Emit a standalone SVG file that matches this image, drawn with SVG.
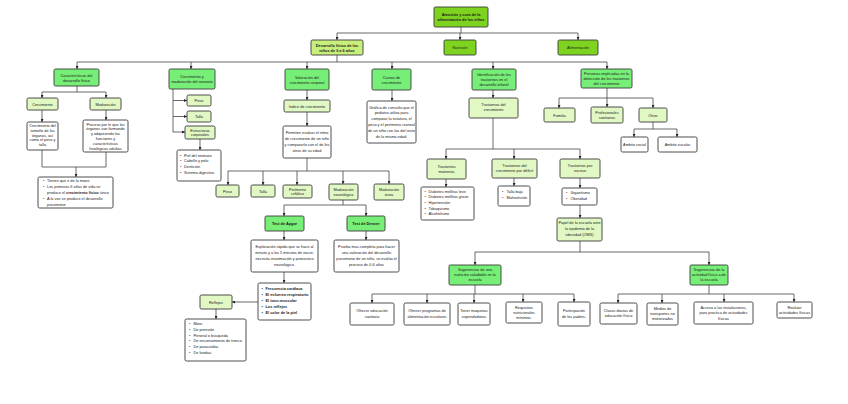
<svg xmlns="http://www.w3.org/2000/svg" width="848" height="404" viewBox="0 0 848 404">
<style>
text{font-family:"Liberation Sans",Arial,sans-serif;font-size:3.85px;fill:#1a1a1a}
.c{text-anchor:middle}
.b{font-weight:bold}
rect{stroke:#3a3a3a;stroke-width:0.9}
rect.bg{stroke:none;fill:#fff}
.n1{fill:#7ed321}
.nd{fill:#c8ef7c}
.n2{fill:#77ee77}
.n3{fill:#e2f8c4}
.w{fill:#fff}
#connectors path{fill:none;stroke:#444;stroke-width:0.8}
</style>
<defs>
<marker id="a" markerWidth="3" markerHeight="3" refX="3" refY="1.5" orient="auto" markerUnits="userSpaceOnUse"><path d="M0,0 L3,1.5 L0,3 z" fill="#222"/></marker>
</defs>
<rect class="bg" width="848" height="404"/>
<g id="connectors">
<path d="M461,27 V33 M337,33 H578"/>
<path d="M337,33 V40" marker-end="url(#a)"/>
<path d="M460,33 V40" marker-end="url(#a)"/>
<path d="M578,33 V40" marker-end="url(#a)"/>
<path d="M337,55 V62 M77,62 H607"/>
<path d="M77,62 V69" marker-end="url(#a)"/>
<path d="M191,62 V69" marker-end="url(#a)"/>
<path d="M307,62 V69" marker-end="url(#a)"/>
<path d="M392,62 V69" marker-end="url(#a)"/>
<path d="M493,62 V69" marker-end="url(#a)"/>
<path d="M607,62 V69" marker-end="url(#a)"/>
<path d="M77,86 V92 M42,92 H106"/>
<path d="M42,92 V98" marker-end="url(#a)"/>
<path d="M106,92 V98" marker-end="url(#a)"/>
<path d="M42,110 V122" marker-end="url(#a)"/>
<path d="M106,110 V120" marker-end="url(#a)"/>
<path d="M42,150 V167 H106 V152"/>
<path d="M76,167 V177" marker-end="url(#a)"/>
<path d="M173,89 V132"/>
<path d="M173,100.5 H187" marker-end="url(#a)"/>
<path d="M173,116.5 H187" marker-end="url(#a)"/>
<path d="M173,132 H185" marker-end="url(#a)"/>
<path d="M200,139 V150" marker-end="url(#a)"/>
<path d="M307,90 V100" marker-end="url(#a)"/>
<path d="M307,112 V126" marker-end="url(#a)"/>
<path d="M307,158 V171 M228,171 H389"/>
<path d="M228,171 V185" marker-end="url(#a)"/>
<path d="M263,171 V185" marker-end="url(#a)"/>
<path d="M297,171 V185" marker-end="url(#a)"/>
<path d="M343,171 V184" marker-end="url(#a)"/>
<path d="M389,171 V184" marker-end="url(#a)"/>
<path d="M343,200 V205 M284,205 H366"/>
<path d="M284,205 V216" marker-end="url(#a)"/>
<path d="M366,205 V216" marker-end="url(#a)"/>
<path d="M284,231 V240" marker-end="url(#a)"/>
<path d="M366,231 V240" marker-end="url(#a)"/>
<path d="M284,272 V283" marker-end="url(#a)"/>
<path d="M258,302 H232" marker-end="url(#a)"/>
<path d="M216,309 V319" marker-end="url(#a)"/>
<path d="M392,90 V101" marker-end="url(#a)"/>
<path d="M493,90 V98" marker-end="url(#a)"/>
<path d="M493,118 V149 M446,149 H580"/>
<path d="M446,149 V159" marker-end="url(#a)"/>
<path d="M514,149 V159" marker-end="url(#a)"/>
<path d="M580,149 V159" marker-end="url(#a)"/>
<path d="M446,179 V187" marker-end="url(#a)"/>
<path d="M514,178 V186" marker-end="url(#a)"/>
<path d="M580,178 V188" marker-end="url(#a)"/>
<path d="M580,205 V218" marker-end="url(#a)"/>
<path d="M580,241 V252 M475,252 H709"/>
<path d="M475,252 V265" marker-end="url(#a)"/>
<path d="M709,252 V265" marker-end="url(#a)"/>
<path d="M475,285 V294 M372,294 H574"/>
<path d="M372,294 V303" marker-end="url(#a)"/>
<path d="M427,294 V303" marker-end="url(#a)"/>
<path d="M474,294 V303" marker-end="url(#a)"/>
<path d="M523,294 V302" marker-end="url(#a)"/>
<path d="M574,294 V302" marker-end="url(#a)"/>
<path d="M709,285 V294 M618,294 H794"/>
<path d="M618,294 V303" marker-end="url(#a)"/>
<path d="M662,294 V303" marker-end="url(#a)"/>
<path d="M724,294 V302" marker-end="url(#a)"/>
<path d="M794,294 V302" marker-end="url(#a)"/>
<path d="M607,88 V98 M559,98 H653"/>
<path d="M559,98 V108" marker-end="url(#a)"/>
<path d="M607,98 V107" marker-end="url(#a)"/>
<path d="M653,98 V108" marker-end="url(#a)"/>
<path d="M653,122 V129 M634,129 H677"/>
<path d="M634,129 V137" marker-end="url(#a)"/>
<path d="M677,129 V137" marker-end="url(#a)"/>
</g>

<g id="top"><rect class="n1" x="434" y="7" width="54" height="20" rx="1.5"/><text class="c b" x="461" y="16">Atención y cura de la</text><text class="c b" x="461" y="21">alimentación de los niños</text></g>
<g id="desarrollo"><rect class="nd" x="311" y="40" width="52" height="15" rx="1.5"/><text class="c b" x="337" y="46.5">Desarrollo físico de los</text><text class="c b" x="337" y="51.5">niños de 0 a 6 años</text></g>
<g id="nutricion"><rect class="n1" x="444" y="40" width="32" height="15" rx="1.5"/><text class="c" x="460" y="49">Nutrición</text></g>
<g id="alimentacion"><rect class="n1" x="558" y="40" width="40" height="15" rx="1.5"/><text class="c" x="578" y="49">Alimentación</text></g>

<g id="caracteristicas"><rect class="n2" x="54" y="69" width="45" height="17" rx="1.5"/><text class="c" x="76.5" y="76.5">Características del</text><text class="c" x="76.5" y="81.5">desarrollo físico</text></g>
<g id="neonato"><rect class="n2" x="169" y="69" width="46" height="20" rx="1.5"/><text class="c" x="192" y="78">Crecimiento y</text><text class="c" x="192" y="83">maduración del neonato</text></g>
<g id="valoracion"><rect class="n2" x="285" y="69" width="44" height="21" rx="1.5"/><text class="c" x="307" y="78.5">Valoración del</text><text class="c" x="307" y="83.5">crecimiento corporal</text></g>
<g id="curvas"><rect class="n2" x="372" y="69" width="39" height="21" rx="1.5"/><text class="c" x="391.5" y="78.5">Curvas de</text><text class="c" x="391.5" y="83.5">crecimiento</text></g>
<g id="identificacion"><rect class="n2" x="472" y="69" width="44" height="21" rx="1.5"/><text class="c" x="494" y="76">Identificación de los</text><text class="c" x="494" y="81">trastornos en el</text><text class="c" x="494" y="86">desarrollo infantil</text></g>
<g id="personas"><rect class="n2" x="581" y="69" width="51" height="19" rx="1.5"/><text class="c" x="606.5" y="75">Personas implicadas en la</text><text class="c" x="606.5" y="80">detección de los trastornos</text><text class="c" x="606.5" y="85">del crecimiento</text></g>

<g id="crecimiento"><rect class="n3" x="27" y="98" width="31" height="12" rx="1.5"/><text class="c" x="42.5" y="105.5">Crecimiento</text></g>
<g id="maduracion"><rect class="n3" x="90" y="98" width="31" height="12" rx="1.5"/><text class="c" x="105.5" y="105.5">Maduración</text></g>
<g id="crec-text"><rect class="w" x="27" y="122" width="31" height="28" rx="1.5"/><text class="c" x="42.5" y="127">Crecimiento del</text><text class="c" x="42.5" y="131.8">tamaño de los</text><text class="c" x="42.5" y="136.6">órganos, así</text><text class="c" x="42.5" y="141.4">como el peso y</text><text class="c" x="42.5" y="146.2">talla</text></g>
<g id="mad-text"><rect class="w" x="83" y="120" width="45" height="32" rx="1.5"/><text class="c" x="105.5" y="125.5">Proceso por le que los</text><text class="c" x="105.5" y="130.3">órganos van formando</text><text class="c" x="105.5" y="135.1">y adquiriendo las</text><text class="c" x="105.5" y="139.9">funciones y</text><text class="c" x="105.5" y="144.7">características</text><text class="c" x="105.5" y="149.5">fisiológicas adultas</text></g>
<g id="mano"><rect class="w" x="38" y="177" width="75" height="31" rx="1.5"/><text x="43" y="182">•</text><text x="47" y="182">Tienen que ir de la mano</text><text x="43" y="188">•</text><text x="47" y="188">Los primeros 6 años de vida se</text><text x="47" y="194">produce el <tspan class="b">crecimiento físico</tspan> único</text><text x="43" y="200">•</text><text x="47" y="200">A la vez se produce el desarrollo</text><text x="47" y="206">psicomotor</text></g>

<g id="peso1"><rect class="n3" x="187" y="95" width="24" height="11" rx="1.5"/><text class="c" x="199" y="102">Peso</text></g>
<g id="talla1"><rect class="n3" x="187" y="111" width="24" height="11" rx="1.5"/><text class="c" x="199" y="118">Talla</text></g>
<g id="estructuras"><rect class="n3" x="185" y="126" width="30" height="13" rx="1.5"/><text class="c" x="200" y="131.5">Estructuras</text><text class="c" x="200" y="136.3">corporales</text></g>
<g id="neonato-list"><rect class="w" x="177" y="150" width="44" height="31" rx="1.5"/><text x="180" y="156.5">•</text><text x="184" y="156.5">Piel del neonato</text><text x="180" y="162.3">•</text><text x="184" y="162.3">Cabello y pelo</text><text x="180" y="168.1">•</text><text x="184" y="168.1">Dentición</text><text x="180" y="173.9">•</text><text x="184" y="173.9">Sistema digestivo</text></g>

<g id="indice"><rect class="n3" x="284" y="100" width="46" height="12" rx="1.5"/><text class="c" x="307" y="107.5">Índice de crecimiento</text></g>
<g id="permiten"><rect class="w" x="283" y="126" width="48" height="32" rx="1.5"/><text class="c" x="307" y="134">Permiten evaluar el ritmo</text><text class="c" x="307" y="140">de crecimiento de un niño</text><text class="c" x="307" y="146">y compararlo con el de los</text><text class="c" x="307" y="152">otros de su edad</text></g>
<g id="peso2"><rect class="n3" x="216" y="185" width="23" height="12" rx="1.5"/><text class="c" x="227.5" y="192.5">Peso</text></g>
<g id="talla2"><rect class="n3" x="251" y="185" width="24" height="12" rx="1.5"/><text class="c" x="263" y="192.5">Talla</text></g>
<g id="perimetro"><rect class="n3" x="283" y="185" width="29" height="13" rx="1.5"/><text class="c" x="297.5" y="190.5">Perímetro</text><text class="c" x="297.5" y="195.3">cefálico</text></g>
<g id="madneuro"><rect class="n3" x="329" y="184" width="29" height="16" rx="1.5"/><text class="c" x="343.5" y="191">Maduración</text><text class="c" x="343.5" y="196">neurológica</text></g>
<g id="madosea"><rect class="n3" x="374" y="184" width="30" height="16" rx="1.5"/><text class="c" x="389" y="191">Maduración</text><text class="c" x="389" y="196">ósea</text></g>
<g id="apgar"><rect class="n2" x="265" y="216" width="39" height="15" rx="1.5"/><text class="c b" x="284.5" y="225">Test de Apgar</text></g>
<g id="denver"><rect class="n2" x="347" y="216" width="38" height="15" rx="1.5"/><text class="c b" x="366" y="225">Test de Denver</text></g>
<g id="apgar-text"><rect class="w" x="251" y="240" width="67" height="32" rx="1.5"/><text class="c" x="284.5" y="248">Exploración rápida que se hace al</text><text class="c" x="284.5" y="254">minuto y a los 5   minutos de nacer,</text><text class="c" x="284.5" y="260">necesita reanimación y pronostico</text><text class="c" x="284.5" y="266">neurológico.</text></g>
<g id="denver-text"><rect class="w" x="334" y="240" width="65" height="32" rx="1.5"/><text class="c" x="366.5" y="248">Prueba mas completa para hacer</text><text class="c" x="366.5" y="254">una valoración del desarrollo</text><text class="c" x="366.5" y="260">psicomotor de un niño, se evalúa el</text><text class="c" x="366.5" y="266">proceso de 0-6 años</text></g>
<g id="apgar-list" class="b"><rect class="w" x="258" y="283" width="53" height="37" rx="1.5"/><text x="261.5" y="290">•</text><text class="b" x="265.5" y="290">Frecuencia cardiaca</text><text x="261.5" y="296">•</text><text class="b" x="265.5" y="296">El esfuerzo respiratorio</text><text x="261.5" y="302">•</text><text class="b" x="265.5" y="302">El tono muscular</text><text x="261.5" y="308">•</text><text class="b" x="265.5" y="308">Los reflejos</text><text x="261.5" y="314">•</text><text class="b" x="265.5" y="314">El color de la piel</text></g>
<g id="reflejos"><rect class="n3" x="200" y="295" width="32" height="14" rx="1.5"/><text class="c" x="216" y="303.5">Reflejos</text></g>
<g id="reflejos-list"><rect class="w" x="185" y="319" width="61" height="42" rx="1.5"/><text x="189" y="325">•</text><text x="193.5" y="325">Moro</text><text x="189" y="330.8">•</text><text x="193.5" y="330.8">De prensión</text><text x="189" y="336.6">•</text><text x="193.5" y="336.6">Perioral o búsqueda</text><text x="189" y="342.4">•</text><text x="193.5" y="342.4">De encorvamiento de tronco</text><text x="189" y="348.2">•</text><text x="193.5" y="348.2">De paracaídas</text><text x="189" y="354">•</text><text x="193.5" y="354">De landau</text></g>

<g id="curvas-text"><rect class="w" x="367" y="101" width="49" height="42" rx="1.5"/><text class="c" x="391.5" y="108.5">Gráfica de consulta que el</text><text class="c" x="391.5" y="114.3">pediatra utiliza para</text><text class="c" x="391.5" y="120.1">comparar la estatura, el</text><text class="c" x="391.5" y="125.9">peso y el perímetro craneal</text><text class="c" x="391.5" y="131.7">de un niño con las del resto</text><text class="c" x="391.5" y="137.5">de la misma edad.</text></g>

<g id="trastornos"><rect class="n3" x="469" y="98" width="49" height="20" rx="1.5"/><text class="c" x="493.5" y="106">Trastornos del</text><text class="c" x="493.5" y="111">crecimiento</text></g>
<g id="maternos"><rect class="n3" x="427" y="159" width="39" height="20" rx="1.5"/><text class="c" x="446.5" y="167.5">Trastornos</text><text class="c" x="446.5" y="172.5">maternos</text></g>
<g id="deficit"><rect class="n3" x="492" y="159" width="45" height="19" rx="1.5"/><text class="c" x="514.5" y="167">Trastornos del</text><text class="c" x="514.5" y="172">crecimiento por déficit</text></g>
<g id="exceso"><rect class="n3" x="560" y="159" width="40" height="19" rx="1.5"/><text class="c" x="580" y="167">Trastornos por</text><text class="c" x="580" y="172">exceso</text></g>
<g id="maternos-list"><rect class="w" x="421" y="187" width="53" height="33" rx="1.5"/><text x="424.5" y="192.5">•</text><text x="428.5" y="192.5">Diabetes mellitus leve</text><text x="424.5" y="198.2">•</text><text x="428.5" y="198.2">Diabetes mellitus grave</text><text x="424.5" y="203.9">•</text><text x="428.5" y="203.9">Hipertensión</text><text x="424.5" y="209.6">•</text><text x="428.5" y="209.6">Tabaquismo</text><text x="424.5" y="215.3">•</text><text x="428.5" y="215.3">Alcoholismo</text></g>
<g id="deficit-list"><rect class="w" x="498" y="186" width="32" height="20" rx="1.5"/><text x="502" y="193">•</text><text x="506.5" y="193">Talla baja</text><text x="502" y="198.7">•</text><text x="506.5" y="198.7">Malnutrición</text></g>
<g id="exceso-list"><rect class="w" x="562" y="188" width="35" height="17" rx="1.5"/><text x="566" y="194">•</text><text x="570.5" y="194">Gigantismo</text><text x="566" y="199.7">•</text><text x="570.5" y="199.7">Obesidad</text></g>
<g id="papel"><rect class="n3" x="557" y="218" width="45" height="23" rx="1.5"/><text class="c" x="579.5" y="224">Papel  de la escuela ante</text><text class="c" x="579.5" y="230">la epidemia de la</text><text class="c" x="579.5" y="236">obesidad (OMS)</text></g>
<g id="sug-nutricion"><rect class="n2" x="449" y="265" width="52" height="20" rx="1.5"/><text class="c" x="475" y="271">Sugerencias de una</text><text class="c" x="475" y="276">nutrición saludable en la</text><text class="c" x="475" y="281">escuela</text></g>
<g id="sug-actividad"><rect class="n2" x="690" y="265" width="38" height="20" rx="1.5"/><text class="c" x="709" y="271">Sugerencias de la</text><text class="c" x="709" y="276">actividad física a de</text><text class="c" x="709" y="281">la escuela</text></g>
<g id="educacion"><rect class="w" x="350" y="303" width="44" height="22" rx="1.5"/><text class="c" x="372" y="312">Ofrecer educación</text><text class="c" x="372" y="318">sanitaria</text></g>
<g id="programas"><rect class="w" x="404" y="303" width="46" height="22" rx="1.5"/><text class="c" x="427" y="312">Ofrecer programas de</text><text class="c" x="427" y="318">alimentación escolares</text></g>
<g id="maquinas"><rect class="w" x="458" y="303" width="32" height="22" rx="1.5"/><text class="c" x="474" y="312">Tener maquinas</text><text class="c" x="474" y="318">expendedoras</text></g>
<g id="requisitos"><rect class="w" x="506" y="302" width="36" height="21" rx="1.5"/><text class="c" x="524" y="308.5">Requisitos</text><text class="c" x="524" y="313.5">nutricionales</text><text class="c" x="524" y="318.5">mínimos.</text></g>
<g id="padres"><rect class="w" x="558" y="302" width="32" height="24" rx="1.5"/><text class="c" x="574" y="312">Participación</text><text class="c" x="574" y="318">de los padres.</text></g>
<g id="clases"><rect class="w" x="600" y="303" width="37" height="21" rx="1.5"/><text class="c" x="618.5" y="311.5">Clases diarias de</text><text class="c" x="618.5" y="317">educación física</text></g>
<g id="medios"><rect class="w" x="647" y="303" width="31" height="22" rx="1.5"/><text class="c" x="662.5" y="309.5">Medios de</text><text class="c" x="662.5" y="314.8">transportes no</text><text class="c" x="662.5" y="320.1">motorizados</text></g>
<g id="acceso"><rect class="w" x="694" y="302" width="59" height="22" rx="1.5"/><text class="c" x="723.5" y="309">Acceso a las instalaciones,</text><text class="c" x="723.5" y="314.3">para practica de actividades</text><text class="c" x="723.5" y="319.6">físicas</text></g>
<g id="realizar"><rect class="w" x="777" y="302" width="35" height="16" rx="1.5"/><text class="c" x="794.5" y="309">Realizar</text><text class="c" x="794.5" y="314">actividades físicas</text></g>

<g id="familia"><rect class="n3" x="544" y="108" width="31" height="14" rx="1.5"/><text class="c" x="559.5" y="116.5">Familia</text></g>
<g id="profesionales"><rect class="n3" x="591" y="107" width="32" height="16" rx="1.5"/><text class="c" x="607" y="114">Profesionales</text><text class="c" x="607" y="119">sanitarios</text></g>
<g id="otros"><rect class="n3" x="639" y="108" width="28" height="14" rx="1.5"/><text class="c" x="653" y="116.5">Otros</text></g>
<g id="social"><rect class="w" x="621" y="137" width="27" height="15" rx="1.5"/><text class="c" x="634.5" y="146">Ámbito social</text></g>
<g id="escolar"><rect class="w" x="658" y="137" width="39" height="15" rx="1.5"/><text class="c" x="677.5" y="146">Ámbito escolar</text></g>
</svg>
